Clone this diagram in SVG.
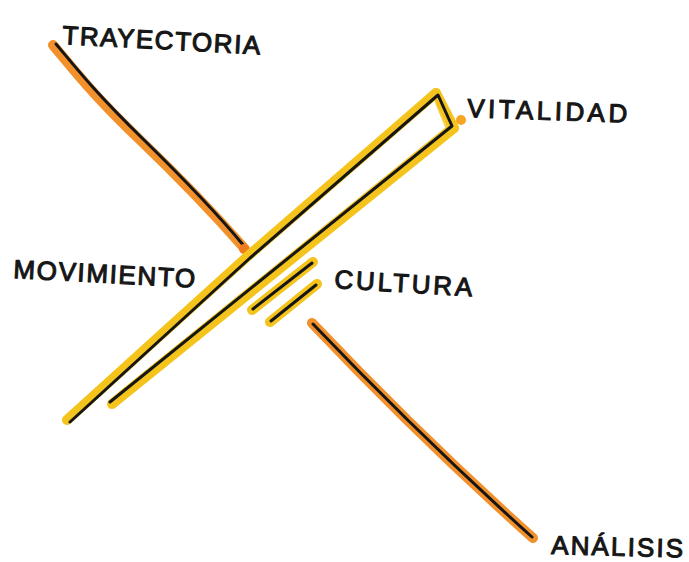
<svg xmlns="http://www.w3.org/2000/svg" width="689" height="562" viewBox="0 0 689 562">
  <style>
    .lbl { font-family: "Liberation Sans", Arial, sans-serif; font-size: 26px; fill: #161616; stroke: #161616; stroke-width: 1.1; stroke-linejoin: round; }
    .ink { fill: none; stroke: #161616; stroke-width: 3; stroke-linecap: round; stroke-linejoin: round; }
    .orange { fill: none; stroke: #F2902B; stroke-width: 10; stroke-linecap: round; stroke-linejoin: round; }
    .yellow { fill: none; stroke: #F4C31C; stroke-width: 10; stroke-linecap: round; stroke-linejoin: round; }
    .yellowthin { fill: none; stroke: #F4C31C; stroke-width: 3; stroke-linecap: round; stroke-linejoin: round; opacity: 0.8; }
  </style>
  <rect width="689" height="562" fill="#ffffff"/>

  <g id="connectors">
    <!-- Trayectoria line -->
    <g id="line-trayectoria">
      <path class="orange" d="M53,45 C78,75 95,97 140,140 S215,215 245,249"/>
      <path class="ink" d="M56,44 C81,74 98,95 142,138 S217,213 244,246"/>
      <circle cx="244" cy="249" r="5" fill="#F07A1E"/>
    </g>
    <!-- Long wedge (yellow with black outline) -->
    <g id="line-wedge">
      <path class="yellow" d="M67,420 L248,256 L436,93"/>
      <path class="yellow" d="M112,404 L454,128"/>
      <path class="yellow" d="M436,93 L454,128"/>
      <path class="yellowthin" d="M118,395 L447,128 L437,104"/>
      <path class="ink" d="M70,422 L250,258 L438,95 L452,126 L110,402"/>
      <circle cx="461" cy="120" r="5" fill="#F5A623"/>
    </g>
    <!-- Two short dashes -->
    <g id="dashes">
      <path class="yellow" d="M252,310 L313,262"/>
      <path class="yellow" d="M270,322 L317,284"/>
      <path class="ink" d="M253,309 L312,263"/>
      <path class="ink" d="M271,321 L316,285"/>
    </g>
    <!-- Analisis line -->
    <g id="line-analisis">
      <path class="orange" d="M312,323 Q420,437 533,538"/>
      <path class="ink" d="M313,324 Q421,437 532,537"/>
    </g>
  </g>

  <g id="node-trayectoria">
    <text class="lbl" x="62" y="44" font-size="25" textLength="198" lengthAdjust="spacing" transform="rotate(3 62 44)">TRAYECTORIA</text>
  </g>
  <g id="node-vitalidad">
    <text class="lbl" x="467" y="117" font-size="27" textLength="160" lengthAdjust="spacing" transform="rotate(2 467 117)">VITALIDAD</text>
  </g>
  <g id="node-movimiento">
    <text class="lbl" x="13" y="278" font-size="26" textLength="182" lengthAdjust="spacing" transform="rotate(3 13 278)">MOVIMIENTO</text>
  </g>
  <g id="node-cultura">
    <text class="lbl" x="334" y="288" font-size="27" textLength="138" lengthAdjust="spacing" transform="rotate(3.5 334 288)">CULTURA</text>
  </g>
  <g id="node-analisis">
    <text class="lbl" x="551" y="554" font-size="27" textLength="132" lengthAdjust="spacing" transform="rotate(1.5 551 554)">ANÁLISIS</text>
  </g>
</svg>
